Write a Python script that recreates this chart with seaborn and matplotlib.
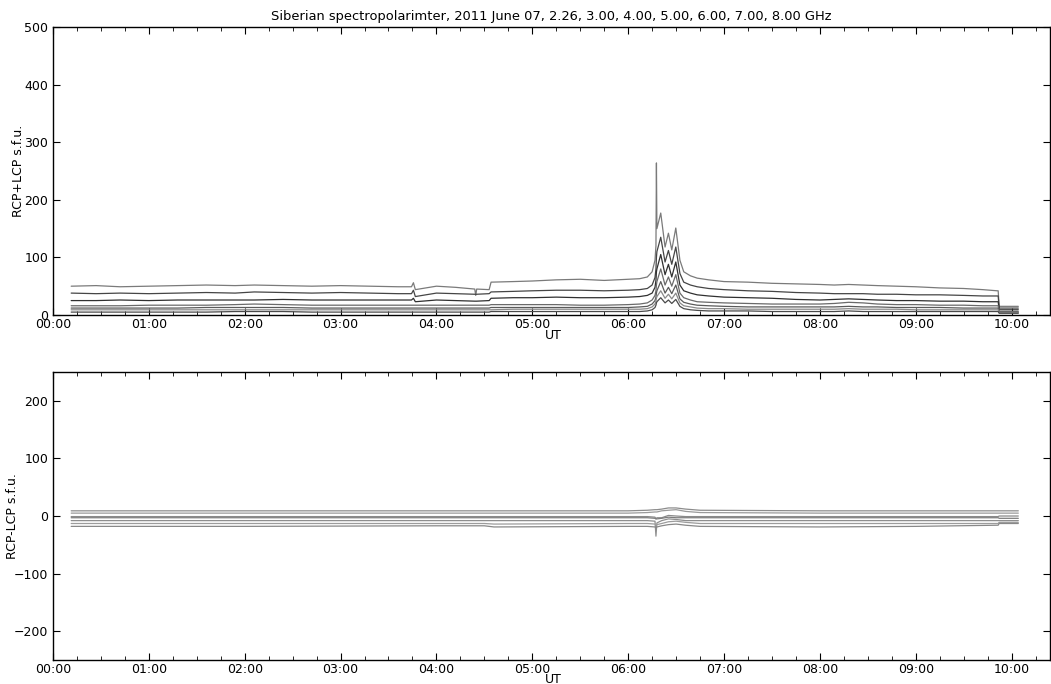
import matplotlib
matplotlib.use("Agg")
import matplotlib.pyplot as plt
import matplotlib.dates as mdates
from matplotlib.ticker import MultipleLocator
import pandas as pd
import seaborn as sns

# time grid (hours UT) for the total-flux panel
hours_sum = [0.19, 0.45, 0.7, 1.0, 1.3, 1.6, 1.9, 2.1, 2.4, 2.7, 3.0, 3.3, 3.6,
             3.74, 3.76, 3.78, 4.0, 4.2, 4.4, 4.41, 4.42, 4.55, 4.57, 4.8, 5.0,
             5.25, 5.5, 5.75, 6.0, 6.12, 6.2, 6.25, 6.28, 6.29, 6.295, 6.30,
             6.34, 6.385, 6.42, 6.455, 6.497, 6.54, 6.58, 6.65, 6.72, 6.84, 7.0,
             7.25, 7.5, 7.75, 8.0, 8.15, 8.3, 8.45, 8.6, 8.8, 9.0, 9.25, 9.5,
             9.7, 9.85, 9.86, 9.87, 10.07]

sum_a = [50, 51, 49, 50, 51, 52, 51, 52, 51, 50, 51, 50, 49,
         49, 56, 44, 50, 48, 45, 34, 45, 44, 57, 58, 59,
         61, 62, 60, 62, 63, 66, 75, 95, 120, 264, 150,
         177, 118, 142, 113, 151, 95, 75, 68, 64, 61, 58,
         57, 55, 54, 53, 52, 53, 52, 51, 50, 49, 47, 46,
         44, 42, 42, 15, 15]
sum_b = [38, 37, 38, 37, 38, 39, 38, 40, 39, 38, 39, 38, 37,
         37, 43, 32, 38, 37, 36, 36, 36, 37, 40, 41, 42,
         43, 43, 42, 43, 44, 46, 52, 65, 80, 100, 110,
         135, 92, 112, 88, 118, 72, 57, 52, 49, 46, 44,
         42, 41, 39, 38, 37, 37, 37, 36, 36, 35, 35, 34,
         33, 33, 33, 12, 12]
sum_c = [25, 25, 26, 25, 26, 26, 26, 26, 27, 26, 26, 26, 26,
         26, 29, 23, 26, 25, 24, 24, 24, 25, 29, 30, 30,
         31, 30, 30, 31, 32, 34, 38, 48, 60, 75, 80,
         105, 70, 88, 66, 92, 52, 42, 38, 35, 33, 31,
         30, 29, 27, 26, 27, 28, 27, 26, 25, 25, 24, 24,
         23, 23, 23, 9, 9]
sum_d = [16, 16, 16, 17, 17, 17, 18, 19, 18, 17, 17, 17, 17,
         17, 17, 17, 17, 17, 17, 17, 17, 17, 18, 18, 18,
         18, 17, 17, 18, 19, 21, 26, 34, 42, 52, 58,
         80, 52, 66, 50, 70, 38, 30, 26, 23, 22, 21,
         20, 19, 19, 19, 20, 22, 21, 19, 18, 18, 17, 17,
         16, 16, 16, 6, 6]
sum_e = [12, 12, 12, 12, 12, 13, 13, 13, 13, 12, 12, 12, 12,
         12, 12, 12, 12, 12, 12, 12, 12, 12, 13, 13, 13,
         13, 13, 13, 13, 14, 15, 19, 25, 31, 38, 42,
         58, 38, 48, 37, 52, 28, 22, 19, 17, 16, 15,
         14, 14, 14, 14, 14, 15, 14, 14, 13, 13, 13, 12,
         12, 12, 12, 4.5, 4.5]
sum_f = [9, 9, 9, 9, 9, 9, 9, 9, 9, 9, 9, 9, 9,
         9, 9, 9, 9, 9, 9, 9, 9, 9, 9, 10, 10,
         10, 10, 10, 10, 10, 11, 14, 19, 24, 29, 32,
         42, 29, 36, 28, 38, 21, 16, 14, 12, 11, 11,
         10, 10, 10, 10, 10, 11, 10, 10, 10, 9, 9, 9,
         9, 9, 9, 4, 4]
sum_g = [5, 5, 5, 5, 5, 5, 6, 6, 6, 5, 5, 5, 5,
         5, 5, 5, 5, 5, 5, 5, 5, 5, 6, 6, 6,
         6, 6, 6, 6, 6, 7, 9, 13, 17, 21, 23,
         30, 21, 26, 20, 27, 15, 11, 9, 8, 7, 7,
         7, 6, 6, 6, 6, 7, 6, 6, 6, 6, 6, 6,
         6, 6, 6, 3, 3]

# time grid (hours UT) for the polarized-flux panel
hours_diff = [0.19, 2.0, 4.0, 4.5, 4.6, 6.0, 6.2, 6.28, 6.29, 6.30, 6.35, 6.42,
              6.5, 6.6, 6.75, 8.0, 9.0, 9.85, 9.86, 9.87, 10.07]

diff_a = [9, 9, 9, 9, 9, 9, 10, 11, 11, 11, 12, 14, 14, 12, 10, 9, 9, 9, 9, 9, 9]
diff_b = [5, 5, 5, 5, 5, 5, 6, 7, 7, 7, 9, 10, 11, 8, 6, 5, 5, 5, 5, 5, 5]
diff_c = [-1, -1, -1, -1, -1, -1, -1, -2, -5, -3, -3, 1, 0, -1, -1, -1, -1, -1, -1, 0, 0]
diff_d = [-3, -3, -3, -3, -3, -3, -3, -4, -5, -5, -4, -2, -3, -3, -3, -3, -3, -3, -3, -4, -4]
diff_e = [-8, -8, -8, -8, -8, -8, -8, -9, -35, -12, -8, -5, -6, -8, -8, -8, -8, -8, -8, -8, -8]
diff_f = [-13, -13, -13, -13, -14, -13, -13, -14, -16, -15, -13, -10, -9, -11, -13, -13, -13, -13, -13, -11, -11]
diff_g = [-18, -18, -17, -17, -19, -18, -18, -19, -20, -19, -17, -15, -14, -16, -18, -19, -18, -16, -16, -13, -13]

freqs = ["2.26", "3.00", "4.00", "5.00", "6.00", "7.00", "8.00"]
sum_colors = ["#7a7a7a", "#454545", "#303030", "#6a6a6a", "#5a5a5a", "#8a8a8a", "#4a4a4a"]
diff_colors = ["#8c8c8c", "#9a9a9a", "#8a8a8a", "#7c7c7c", "#8e8e8e", "#9c9c9c", "#888888"]

day = pd.Timestamp("2011-06-07")


def to_long(hours, series):
    frames = []
    for f, vals in zip(freqs, series):
        frames.append(pd.DataFrame({
            "time": day + pd.to_timedelta(hours, unit="h"),
            "flux": vals,
            "freq": f,
        }))
    return pd.concat(frames, ignore_index=True)


df_sum = to_long(hours_sum, [sum_a, sum_b, sum_c, sum_d, sum_e, sum_f, sum_g])
df_diff = to_long(hours_diff, [diff_a, diff_b, diff_c, diff_d, diff_e, diff_f, diff_g])

sns.set_style("ticks")
plt.rcParams.update({
    "font.family": ["DejaVu Sans"],
    "font.size": 9,
    "text.color": "black",
    "axes.labelcolor": "black",
    "xtick.color": "black",
    "ytick.color": "black",
    "xtick.direction": "in",
    "ytick.direction": "in",
    "xtick.top": True,
    "ytick.right": True,
    "xtick.major.size": 5,
    "ytick.major.size": 5,
    "xtick.minor.size": 3,
    "xtick.major.pad": 2.5,
    "xtick.labelsize": 9,
    "ytick.labelsize": 9,
    "axes.linewidth": 1.0,
    "axes.edgecolor": "black",
})

fig = plt.figure(figsize=(10.51, 6.84), dpi=100)
ax1 = fig.add_axes([0.0504, 0.5395, 0.9486, 0.421])
ax2 = fig.add_axes([0.0504, 0.0351, 0.9486, 0.421])

sns.lineplot(data=df_sum, x="time", y="flux", hue="freq", palette=sum_colors,
             estimator=None, sort=False, linewidth=0.9, legend=False, ax=ax1)
sns.lineplot(data=df_diff, x="time", y="flux", hue="freq", palette=diff_colors,
             estimator=None, sort=False, linewidth=0.9, legend=False, ax=ax2)

x0 = day
x1 = day + pd.Timedelta(hours=10.4)
for ax in (ax1, ax2):
    ax.set_xlim(x0, x1)
    ax.xaxis.set_major_locator(mdates.HourLocator())
    ax.xaxis.set_minor_locator(mdates.MinuteLocator(byminute=[15, 30, 45]))
    ax.xaxis.set_major_formatter(mdates.DateFormatter("%H:%M"))
    ax.set_xlabel("UT")
    ax.tick_params(which="both", top=True, right=True)
    for s in ax.spines.values():
        s.set_visible(True)

ax1.xaxis.set_label_coords(0.5017, -0.049)
ax2.xaxis.set_label_coords(0.5017, -0.044)

ax1.set_ylim(0, 500)
ax1.yaxis.set_major_locator(MultipleLocator(100))
ax1.set_ylabel("RCP+LCP s.f.u.")
ax1.yaxis.set_label_coords(-0.028, 0.5)
ax1.set_title("Siberian spectropolarimter, 2011 June 07, "
              + ", ".join(freqs) + " GHz", fontsize=9.4, pad=5)

ax2.set_ylim(-250, 250)
ax2.yaxis.set_major_locator(MultipleLocator(100))
ax2.set_ylabel("RCP-LCP s.f.u.")
ax2.yaxis.set_label_coords(-0.034, 0.5)

fig.savefig("out.png", dpi=100)
